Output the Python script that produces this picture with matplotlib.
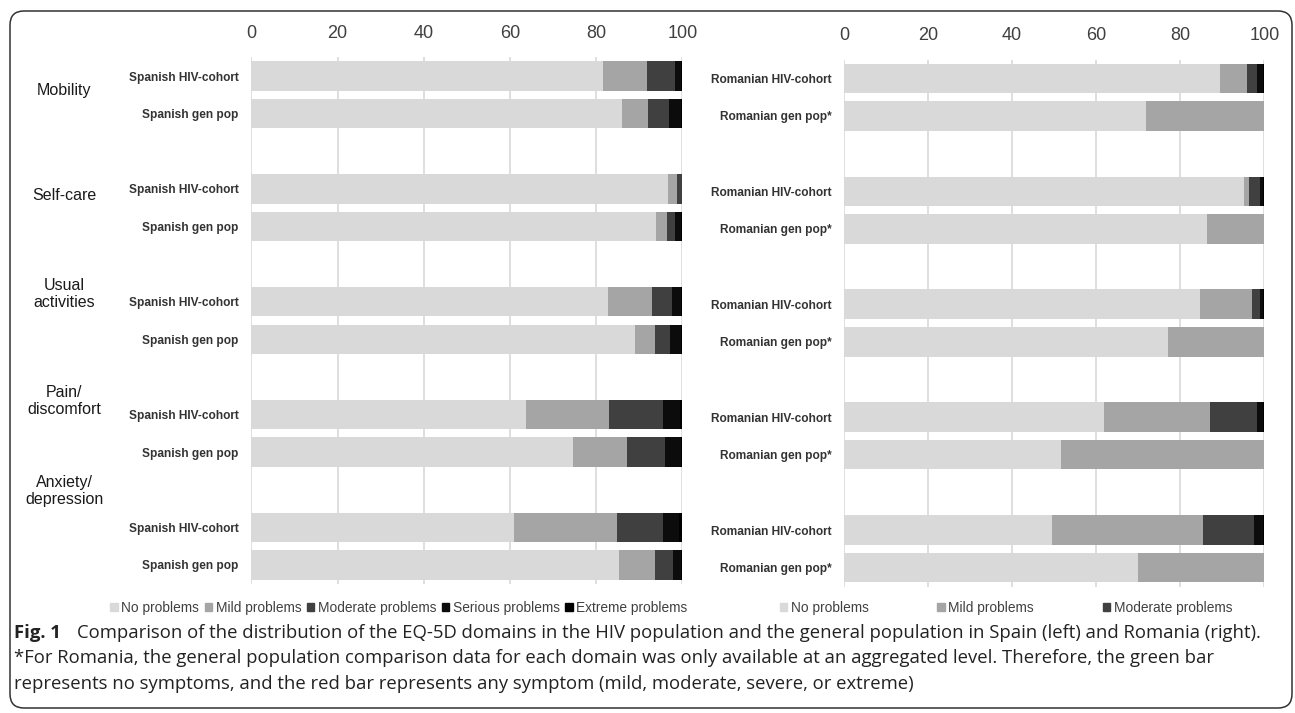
import numpy as np
import matplotlib
matplotlib.use('Agg')
import matplotlib.pyplot as plt
from matplotlib.patches import FancyBboxPatch

plt.rcParams['font.family'] = ['Liberation Sans', 'DejaVu Sans']

domains = ['Mobility', 'Self-care', 'Usual\nactivities', 'Pain/\ndiscomfort', 'Anxiety/\ndepression']
levels = ['No problems', 'Mild problems', 'Moderate problems', 'Serious problems', 'Extreme problems']
colors = ['#d9d9d9', '#a5a5a5', '#404040', '#0c0c0c', '#000000']

# Spain: HIV cohort and general population, % per level
es_hiv_no = [81.6, 96.6, 82.8, 63.7, 60.9]
es_hiv_mild = [10.1, 2.2, 10.2, 19.3, 23.9]
es_hiv_mod = [6.5, 1.2, 4.5, 12.5, 10.7]
es_hiv_ser = [1.4, 0.0, 2.1, 3.9, 3.8]
es_hiv_ext = [0.4, 0.0, 0.4, 0.6, 0.7]

es_gen_no = [85.9, 93.9, 89.0, 74.7, 85.2]
es_gen_mild = [6.2, 2.5, 4.7, 12.5, 8.5]
es_gen_mod = [4.7, 1.8, 3.4, 8.8, 4.2]
es_gen_ser = [2.8, 1.5, 2.6, 3.6, 1.8]
es_gen_ext = [0.4, 0.3, 0.3, 0.4, 0.3]

# Romania
ro_hiv_no = [89.5, 95.2, 84.7, 61.8, 49.4]
ro_hiv_mild = [6.4, 1.2, 12.4, 25.2, 35.9]
ro_hiv_mod = [2.4, 2.5, 1.8, 11.3, 12.2]
ro_hiv_ser = [1.5, 0.9, 0.9, 1.5, 2.2]
ro_hiv_ext = [0.2, 0.2, 0.2, 0.2, 0.3]

ro_gen_no = [71.8, 86.3, 77.2, 51.7, 70.0]
ro_gen_any = [28.2, 13.7, 22.8, 48.3, 30.0]
ro_gen_zero = [0, 0, 0, 0, 0]

W, H = 1295, 713
fig = plt.figure(figsize=(W / 100, H / 100), dpi=100)


def fx(px):
    return px / W


def fy(py):
    return 1 - py / H


def draw_panel(ax, hiv, gen, lab_hiv, lab_gen):
    n = len(domains)
    y_hiv = np.arange(n) * 3
    y_gen = np.arange(n) * 3 + 1
    for y, series in ((y_hiv, hiv), (y_gen, gen)):
        left = np.zeros(n)
        for vals, c in zip(series, colors):
            ax.barh(y, vals, left=left, height=0.78, color=c, zorder=2)
            left += np.array(vals)
    ax.set_xlim(0, 100)
    ax.set_ylim(13.5, -0.5)
    ax.set_xticks(range(0, 101, 20))
    ax.xaxis.tick_top()
    ax.tick_params(axis='x', length=0, pad=11, labelsize=13, labelcolor='#404040')
    ax.set_yticks(list(y_hiv) + list(y_gen))
    ax.set_yticklabels([lab_hiv] * n + [lab_gen] * n, fontsize=8.6,
                       fontweight='bold', color='#333333')
    ax.tick_params(axis='y', length=0, pad=9)
    ax.grid(axis='x', color='#d9d9d9', lw=1.2, zorder=0)
    for s in ax.spines.values():
        s.set_visible(False)


ax1 = fig.add_axes([fx(251.3), fy(583.8), fx(431), 526.6 / H])
draw_panel(ax1,
           [es_hiv_no, es_hiv_mild, es_hiv_mod, es_hiv_ser, es_hiv_ext],
           [es_gen_no, es_gen_mild, es_gen_mod, es_gen_ser, es_gen_ext],
           'Spanish HIV-cohort', 'Spanish gen pop')

ax2 = fig.add_axes([fx(844), fy(586.5), fx(420.3), 527 / H])
draw_panel(ax2,
           [ro_hiv_no, ro_hiv_mild, ro_hiv_mod, ro_hiv_ser, ro_hiv_ext],
           [ro_gen_no, ro_gen_any, ro_gen_zero, ro_gen_zero, ro_gen_zero],
           'Romanian HIV-cohort', 'Romanian gen pop*')

# domain labels
dom_y = [90, 196, 294, 401, 491]
for d, py in zip(domains, dom_y):
    fig.text(fx(64), fy(py), d, ha='center', va='center', fontsize=11.5,
             color='#1a1a1a', linespacing=1.2)

# legends
handles = [plt.Rectangle((0, 0), 1, 1, color=c) for c in colors]
fig.legend(handles, levels, loc='center', bbox_to_anchor=(fx(399), fy(608)),
           ncol=5, frameon=False, fontsize=9.9, handlelength=0.55, handleheight=0.55,
           handletextpad=0.25, columnspacing=0.4, labelcolor='#404040')
fig.legend(handles[:3], levels[:3], loc='center', bbox_to_anchor=(fx(1006), fy(608)),
           ncol=3, frameon=False, fontsize=9.9, handlelength=0.55, handleheight=0.55,
           handletextpad=0.25, columnspacing=5.0, labelcolor='#404040')

# caption
cap_font = ['Open Sans', 'DejaVu Sans']
cap_size = 13.3
fig.text(fx(14), fy(633), 'Fig. 1', fontsize=cap_size, fontweight='bold',
         family=cap_font, va='center', color='#222222')
fig.text(fx(77), fy(633),
         'Comparison of the distribution of the EQ-5D domains in the HIV population and '
         'the general population in Spain (left) and Romania (right).',
         fontsize=cap_size, family=cap_font, va='center', color='#222222')
fig.text(fx(14), fy(658),
         '*For Romania, the general population comparison data for each domain was only '
         'available at an aggregated level. Therefore, the green bar',
         fontsize=cap_size, family=cap_font, va='center', color='#222222')
fig.text(fx(14), fy(684),
         'represents no symptoms, and the red bar represents any symptom '
         '(mild, moderate, severe, or extreme)',
         fontsize=cap_size, family=cap_font, va='center', color='#222222')

# rounded frame around the figure
frame = FancyBboxPatch((0.10, 0.05), 12.82, 6.97,
                       boxstyle='round,pad=0,rounding_size=0.14',
                       transform=fig.dpi_scale_trans, fill=False,
                       ec='#333333', lw=1.1)
fig.patches.append(frame)

fig.savefig('out.png', dpi=100)
